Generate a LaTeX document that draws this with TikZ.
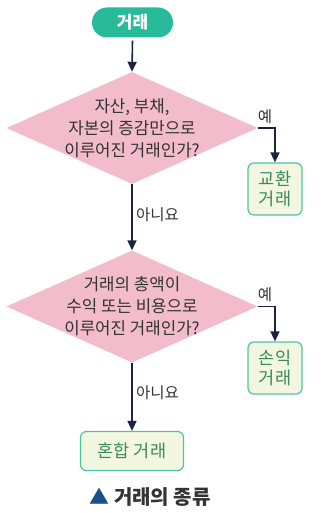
\documentclass[tikz,border=0pt]{standalone}
\usepackage{fontspec}
\setmainfont{Noto Sans CJK KR}
\usetikzlibrary{shapes.geometric,arrows.meta}
\definecolor{teal1}{HTML}{27BB9A}
\definecolor{pink1}{HTML}{F2BCCB}
\definecolor{navy1}{HTML}{1C2340}
\definecolor{boxfill}{HTML}{F3F7E2}
\definecolor{boxline}{HTML}{4CC6A2}
\definecolor{boxtext}{HTML}{3A8A5C}
\definecolor{txt}{HTML}{333333}
\definecolor{capblue}{HTML}{1B4F8A}
\begin{document}
\begin{tikzpicture}[x=1pt,y=1pt,
  startnode/.style={rectangle,rounded corners=15pt,fill=teal1,minimum width=81pt,minimum height=30pt,inner sep=0pt,text=white,font=\fontsize{17}{18}\selectfont\bfseries},
  decision/.style={diamond,fill=pink1,minimum width=251pt,minimum height=112pt,aspect=2.24,inner sep=0pt},
  dtext/.style={align=center,text=txt,font=\fontsize{16.8}{22}\selectfont,inner sep=0pt},
  result/.style={rectangle,rounded corners=6pt,draw=boxline,line width=1.2pt,fill=boxfill,text=boxtext,align=center,inner sep=0pt,font=\fontsize{17.5}{20.5}\selectfont},
  lbl/.style={text=txt,font=\fontsize{15.5}{16}\selectfont,inner sep=0pt},
  flow/.style={draw=navy1,line width=1.6pt,-{Triangle[width=9pt,length=10pt]}}
]
\useasboundingbox (0,0) rectangle (323,513);
\node[startnode] (start) at (132.5,490.5) {거래};
\node[decision] (d1) at (132,385) {};
\node[dtext] (t1) at (d1) {자산, 부채,\\자본의 증감만으로\\이루어진 거래인가?};
\node[decision] (d2) at (132,206.5) {};
\node[dtext] (t2) at (d2) {거래의 총액이\\수익 또는 비용으로\\이루어진 거래인가?};
\node[result,minimum width=54pt,minimum height=52pt] (b1) at (275,324) {교환\\거래};
\node[result,minimum width=54pt,minimum height=52pt] (b2) at (275,145) {손익\\거래};
\node[result,minimum width=103pt,minimum height=39pt] (b3) at (132,62) {혼합 거래};
\draw[flow] (start.south) ++(0,-3) coordinate (s0) (s0) -- (d1.north);
\draw[flow] (d1.south) -- (d2.north);
\draw[flow] (d2.south) -- (b3.north);
\draw[flow] (d1.east) -| (b1.north);
\draw[flow] (d2.east) -| (b2.north);
\node[lbl] (y1) at (265,396) {예};
\node[lbl] (y2) at (265,218) {예};
\node[lbl,anchor=west] (n1) at (136,298) {아니요};
\node[lbl,anchor=west] (n2) at (136,120) {아니요};
\node[anchor=center,inner sep=0pt,font=\fontsize{20}{22}\selectfont\bfseries,text=txt] (cap) at (150,16) {\textcolor{capblue}{▲} 거래의 종류};
\end{tikzpicture}
\end{document}
